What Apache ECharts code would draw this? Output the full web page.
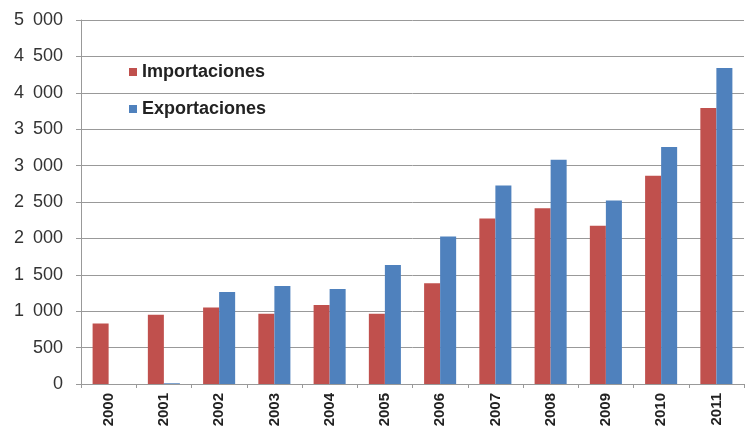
<!DOCTYPE html>
<html><head><meta charset="utf-8">
<script src="https://cdn.jsdelivr.net/npm/echarts@6/dist/echarts.min.js"></script>
<style>html,body{margin:0;padding:0;background:#fff}#c{width:746px;height:439px}</style>
</head><body><div id="c"></div>
<script>
const categories = ['2000','2001','2002','2003','2004','2005','2006','2007','2008','2009','2010','2011'];
const importaciones = [830, 950, 1050, 965, 1085, 965, 1385, 2275, 2415, 2175, 2860, 3790];
const exportaciones = [0, 10, 1265, 1345, 1305, 1635, 2025, 2725, 3080, 2520, 3255, 4340];
const yTicks = {min: 0, max: 5000, interval: 500};

const chart = echarts.init(document.getElementById('c'));
const fmt = v => { const s = String(v); return s.length > 3 ? s.slice(0, s.length-3) + '\u2002' + s.slice(-3) : s; };
chart.setOption({
  animation: false,
  textStyle: {fontFamily: 'Liberation Sans, Arial, sans-serif'},
  grid: {left: 81, right: 2, top: 20, bottom: 55, containLabel: false},
  legend: {
    orient: 'vertical', left: 124, top: 58, itemGap: 19,
    itemWidth: 8, itemHeight: 8, icon: 'rect',
    textStyle: {fontSize: 18, fontWeight: 'bold', color: '#222'},
    data: ['Importaciones', 'Exportaciones']
  },
  xAxis: {
    type: 'category', data: categories,
    axisLine: {lineStyle: {color: '#999'}},
    axisTick: {show: true, length: 4, lineStyle: {color: '#999'}},
    axisLabel: {rotate: 90, fontSize: 15, fontWeight: 'bold', color: '#222', margin: 9}
  },
  yAxis: {
    type: 'value', min: yTicks.min, max: yTicks.max, interval: yTicks.interval,
    axisLine: {show: true, lineStyle: {color: '#999'}},
    axisTick: {show: true, length: 5, lineStyle: {color: '#999'}},
    splitLine: {lineStyle: {color: '#999'}},
    axisLabel: {fontSize: 18, color: '#333', margin: 18, formatter: fmt}
  },
  series: [
    {name: 'Importaciones', type: 'bar', data: importaciones, barGap: '0%', barCategoryGap: '42%', itemStyle: {color: '#C0504D'}},
    {name: 'Exportaciones', type: 'bar', data: exportaciones, barGap: '0%', barCategoryGap: '42%', itemStyle: {color: '#4F81BD'}}
  ]
});
</script></body></html>
